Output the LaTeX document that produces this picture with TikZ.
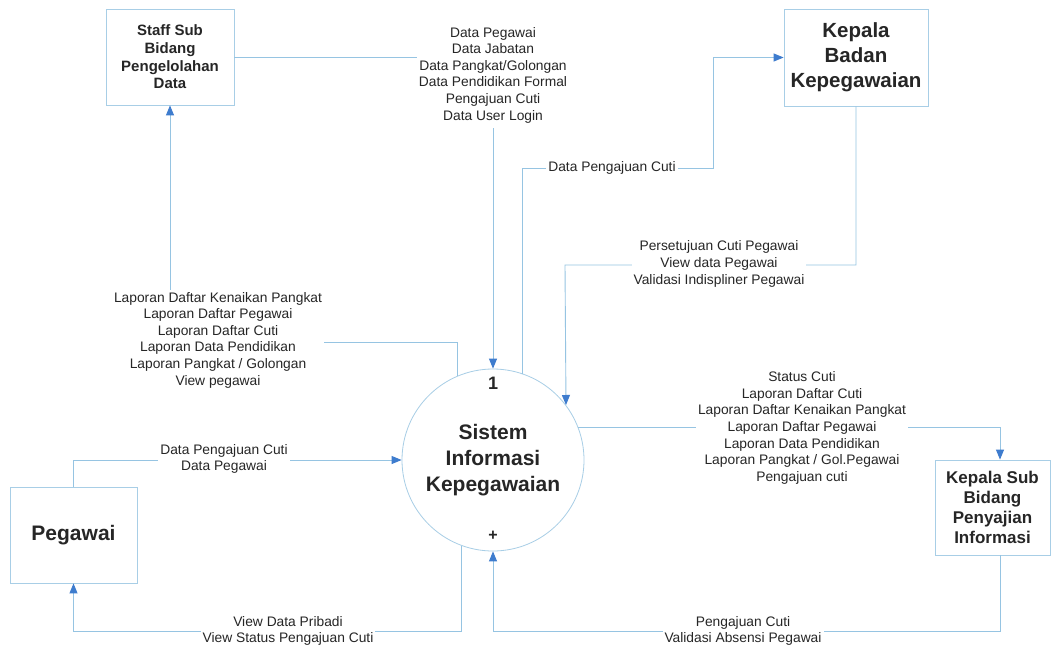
\documentclass[tikz,border=0pt]{standalone}
\usepackage{fontspec}
\setmainfont{Liberation Sans}
\usetikzlibrary{arrows.meta,calc}
\definecolor{flowline}{RGB}{150,196,226}
\definecolor{flowtip}{RGB}{62,124,206}
\definecolor{boxline}{RGB}{168,206,230}
\definecolor{inktext}{RGB}{38,38,38}
\tikzset{
  entity/.style={draw=boxline, line width=0.8pt, fill=white, inner sep=0pt,
    align=center, text=inktext, font=\bfseries},
  process/.style={draw=boxline, line width=0.8pt, circle, fill=white,
    minimum size=182pt, inner sep=0pt},
  flow/.style={draw=flowline, line width=0.9pt,
    -{Triangle[length=10pt,width=8pt,color=flowtip]}},
  flowlabel/.style={fill=white, align=center, text=inktext, inner sep=2pt,
    font=\fontsize{13.8}{16.6}\selectfont},
}
\begin{document}
\begin{tikzpicture}[x=1pt,y=-1pt]
\useasboundingbox[fill=white] (0,0) rectangle (1052,648);

% external entities and the process
\node[entity, minimum width=128pt, minimum height=96pt,
  font=\bfseries\fontsize{15}{17.7}\selectfont]
  (staff) at (170,57) {Staff Sub\\Bidang\\Pengelolahan\\Data};
\node[entity, minimum width=144pt, minimum height=97pt,
  font=\bfseries\fontsize{20.5}{25}\selectfont]
  (kb) at (856,57.5) {Kepala\\Badan\\Kepegawaian};
\node[entity, minimum width=115pt, minimum height=95pt,
  font=\bfseries\fontsize{17}{20}\selectfont]
  (ks) at (992.5,507.5) {Kepala Sub\\Bidang\\Penyajian\\Informasi};
\node[entity, minimum width=127pt, minimum height=96pt,
  font=\bfseries\fontsize{21}{25}\selectfont]
  (peg) at (73.5,535) {Pegawai};
\node[process] (sik) at (493,460) {};
\node[text=inktext, align=center, font=\bfseries\fontsize{21}{26}\selectfont]
  (sikname) at (493,460) {Sistem\\Informasi\\Kepegawaian};
\node[text=inktext, font=\bfseries\fontsize{18}{20}\selectfont]
  (sikno) at (493,383) {1};
\node[text=inktext, font=\bfseries\fontsize{16}{18}\selectfont]
  (sikplus) at (493,536) {+};

% attachment points on the Kepala Sub box
\coordinate (ksin) at ($(ks.north)+(7.5,0)$);
\coordinate (ksout) at ($(ks.south)+(7.5,0)$);

% data flows
\draw[flow] (staff.east) -| (sik.north);
\draw[flow] (sik.71.4) |- (713,168) |- (kb.west);
\draw[flow] (kb.south) |- (565,265) -- (sik.37.7);
\draw[flow] (sik.113.3) |- (170,342) -- (staff.south);
\draw[flow] (peg.north) |- (sik.west);
\draw[flow] (sik.250.75) |- (73.5,631) -- (peg.south);
\draw[flow] (sik.21.3) -| (ksin);
\draw[flow] (ksout) |- (493,631) -- (sik.south);

% flow labels
\node[flowlabel, inner ysep=5pt] (l1) at (493,75)
  {Data Pegawai\\Data Jabatan\\Data Pangkat/Golongan\\Data Pendidikan Formal\\Pengajuan Cuti\\Data User Login};
\node[flowlabel] (l2) at (612,168) {Data Pengajuan Cuti};
\node[flowlabel] (l3) at (719,264)
  {Persetujuan Cuti Pegawai\\View data Pegawai\\Validasi Indispliner Pegawai};
\node[flowlabel] (l4) at (218,340)
  {Laporan Daftar Kenaikan Pangkat\\Laporan Daftar Pegawai\\Laporan Daftar Cuti\\Laporan Data Pendidikan\\Laporan Pangkat / Golongan\\View pegawai};
\node[flowlabel] (l5) at (224,459) {Data Pengajuan Cuti\\Data Pegawai};
\node[flowlabel] (l6) at (288,631) {View Data Pribadi\\View Status Pengajuan Cuti};
\node[flowlabel] (l7) at (802,428)
  {Status Cuti\\Laporan Daftar Cuti\\Laporan Daftar Kenaikan Pangkat\\Laporan Daftar Pegawai\\Laporan Data Pendidikan\\Laporan Pangkat / Gol.Pegawai\\Pengajuan cuti};
\node[flowlabel] (l8) at (743,631) {Pengajuan Cuti\\Validasi Absensi Pegawai};
\end{tikzpicture}
\end{document}
